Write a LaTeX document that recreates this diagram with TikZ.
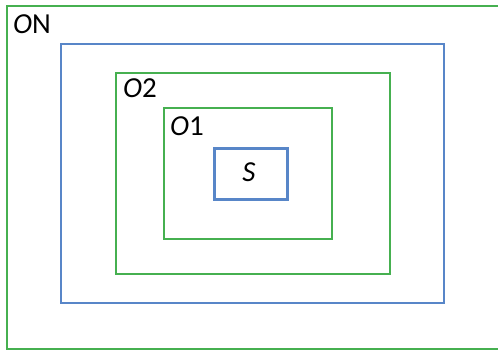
\documentclass[tikz,border=0pt]{standalone}
\usepackage{fontspec}
\setmainfont{Carlito}
\definecolor{boxgreen}{RGB}{70,176,80}
\definecolor{boxblue}{RGB}{88,134,200}
\tikzset{
  greenbox/.style={draw=boxgreen, line width=2pt},
  bluebox/.style={draw=boxblue, line width=1.6pt},
  corebox/.style={draw=boxblue, line width=3pt},
  lbl/.style={font=\fontsize{29}{31}\selectfont, inner sep=0pt, anchor=base west},
}
\begin{document}
\begin{tikzpicture}[x=1pt,y=-1pt]
\useasboundingbox (0,0) rectangle (498,353);
\draw[greenbox] (7,6) rectangle (503,349);
\draw[bluebox] (61,44) rectangle (444,303);
\draw[greenbox] (116,73) rectangle (390,274);
\draw[greenbox] (164,108) rectangle (332,239);
\draw[corebox] (214,148) rectangle (287,199);
\node[lbl] (on) at (13,34) {\textit{O}N};
\node[lbl] (o2) at (123,97) {\textit{O}2};
\node[lbl] (o1) at (170,135) {\textit{O}1};
\node[lbl, anchor=base] (s) at (249,181) {\textit{S}};
\end{tikzpicture}
\end{document}
